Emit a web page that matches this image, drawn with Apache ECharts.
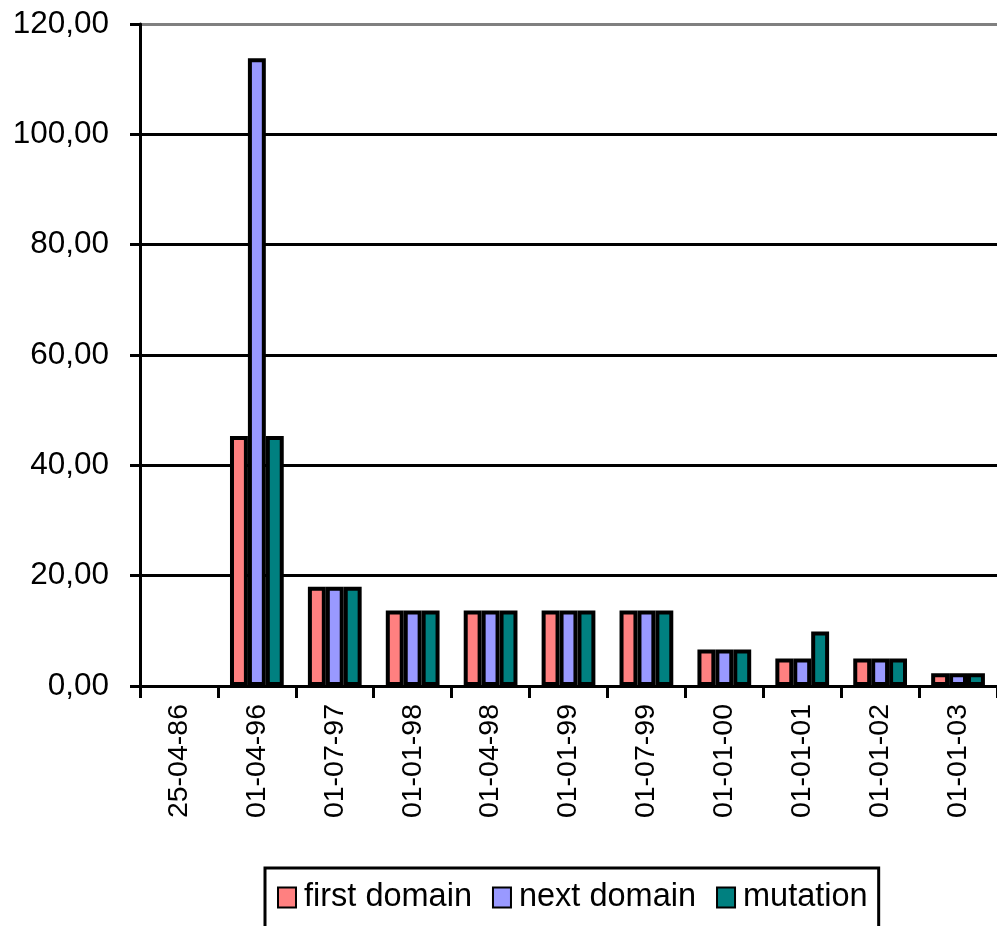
<!DOCTYPE html>
<html>
<head>
<meta charset="utf-8">
<script src="https://cdn.jsdelivr.net/npm/echarts@6/dist/echarts.min.js"></script>
<style>html,body{margin:0;padding:0;background:#fff;}#c{width:997px;height:926px;}</style>
</head>
<body>
<div id="c"></div>
<script>
var categories = ['25-04-86','01-04-96','01-07-97','01-01-98','01-04-98','01-01-99','01-07-99','01-01-00','01-01-01','01-01-02','01-01-03'];
var firstDomain = [null, 45.3, 18, 13.7, 13.7, 13.7, 13.7, 6.6, 5, 5, 2.3];
var nextDomain  = [null, 113.8, 18, 13.7, 13.7, 13.7, 13.7, 6.6, 5, 5, 2.3];
var mutation    = [null, 45.3, 18, 13.7, 13.7, 13.7, 13.7, 6.6, 9.9, 5, 2.3];
var yTicks = [0, 20, 40, 60, 80, 100, 120];

var FONT = 'Liberation Sans, Arial, sans-serif';
var chart = echarts.init(document.getElementById('c'));
function mk(name, data, color) {
  return {
    name: name, type: 'bar', data: data,
    barGap: '0%', barCategoryGap: '31%',
    itemStyle: { color: color, borderColor: '#000', borderWidth: 4 },
    emphasis: { disabled: true }
  };
}
chart.setOption({
  animation: false,
  backgroundColor: '#fff',
  textStyle: { fontFamily: FONT },
  grid: { left: 140, right: 0, top: 24, bottom: 240, containLabel: false },
  legend: {
    left: 265, top: 868,
    padding: [13, 11, 30, 12],
    borderColor: '#000', borderWidth: 3,
    itemGap: 20, itemWidth: 18, itemHeight: 20,
    icon: 'rect',
    textStyle: { fontSize: 32.5, color: '#000', fontFamily: FONT, padding: [0, 0, 0, 3] },
    data: ['first domain', 'next domain', 'mutation']
  },
  xAxis: {
    type: 'category', data: categories,
    axisLine: { lineStyle: { color: '#000', width: 3 } },
    axisTick: { show: true, alignWithLabel: false, length: 12, lineStyle: { color: '#000', width: 3 } },
    axisLabel: { rotate: 90, fontSize: 28.5, color: '#000', margin: 18, fontFamily: FONT, interval: 0 }
  },
  yAxis: {
    type: 'value', min: yTicks[0], max: yTicks[yTicks.length - 1], interval: 20,
    axisLine: { show: true, lineStyle: { color: '#000', width: 3 } },
    axisTick: { show: true, length: 10, lineStyle: { color: '#000', width: 3 } },
    axisLabel: {
      fontSize: 31.5, color: '#000', margin: 31, fontFamily: FONT,
      formatter: function (v) { return v.toFixed(2).replace('.', ','); }
    },
    splitLine: { show: true, lineStyle: { color: ['#000','#000','#000','#000','#000','#000','#808080'], width: 3 } }
  },
  series: [
    mk('first domain', firstDomain, '#ff8080'),
    mk('next domain', nextDomain, '#9999ff'),
    mk('mutation', mutation, '#008080')
  ]
});
</script>
</body>
</html>
